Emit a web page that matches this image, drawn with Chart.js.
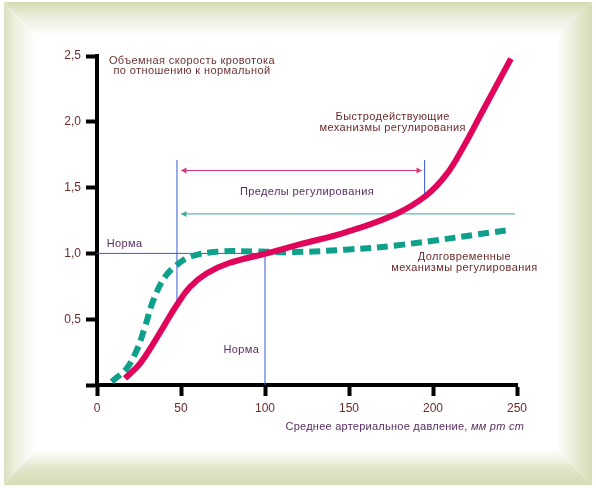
<!DOCTYPE html>
<html><head><meta charset="utf-8">
<script src="https://cdn.jsdelivr.net/npm/chart.js@4/dist/chart.umd.min.js"></script>
<style>html,body{margin:0;padding:0;background:#fff;overflow:hidden}canvas{display:block}</style>
</head><body>
<canvas id="c" width="596" height="488"></canvas>
<script>
// ---- data ----
const xTicks = [0, 50, 100, 150, 200, 250];
const yTickLabels = ['', '0,5', '1,0', '1,5', '2,0', '2,5'];
const fastPressure = [16.7, 25.7, 33.6, 39.6, 47.5, 55.5, 65.4, 78.3, 101, 121, 148, 178, 196, 208, 217.7, 229.5, 246.4];
const fastFlow     = [0.05, 0.165, 0.317, 0.443, 0.608, 0.747, 0.849, 0.925, 1.0, 1.07, 1.16, 1.30, 1.44, 1.60, 1.80, 2.08, 2.48];
const slowPressure = [8.8, 17.7, 23.7, 28.6, 33.6, 40.6, 47.5, 55.5, 71.4, 95, 117, 150, 178, 246.4];
const slowFlow     = [0.025, 0.127, 0.266, 0.443, 0.646, 0.823, 0.912, 0.975, 1.013, 1.015, 1.01, 1.03, 1.06, 1.18];
const normPressure = [0, 100];
const normFlow = [0, 1.0];
const limitPressure = [47.6, 195];
const limitLowFlow = [0.62, 1.43];
const limitTopFlow = 1.71;
const fastArrowPressure = [50.1, 193.3];
const fastArrowFlow = 1.63;
const slowArrowPressure = [50.1, 248.8];
const slowArrowFlow = 1.30;

const pts = (xs, ys) => xs.map((x, i) => ({x, y: ys[i]}));
const FONT = '"Liberation Sans", Arial, sans-serif';
const BLUE = '#3658dc';
const PINK = '#e0045a';
const TEAL = '#0fa08c';

// text notes, placed in data coordinates
const notes = [
  {t: 'Объемная скорость кровотока', x: 56.5, y: 2.464, a: 'center', c: '#6b3232'},
  {t: 'по отношению к нормальной', x: 56.5, y: 2.386, a: 'center', c: '#6b3232'},
  {t: 'Быстродействующие', x: 176, y: 2.034, a: 'center', c: '#6b2b2b'},
  {t: 'механизмы регулирования', x: 176, y: 1.953, a: 'center', c: '#6b2b2b'},
  {t: 'Пределы регулирования', x: 125, y: 1.464, a: 'center', c: '#5a2d62'},
  {t: 'Норма', x: 5.8, y: 1.069, a: 'left', c: '#5a2d62'},
  {t: 'Норма', x: 85.9, y: 0.266, a: 'center', c: '#5a2d62'},
  {t: 'Долговременные', x: 218.7, y: 0.975, a: 'center', c: '#6b2b2b'},
  {t: 'механизмы регулирования', x: 218.7, y: 0.887, a: 'center', c: '#6b2b2b'}
];
const xTitleMain = 'Среднее артериальное давление, ';
const xTitleUnit = 'мм рт ст';

const framePlugin = {
  id: 'frame',
  beforeDraw(chart) {
    const ctx = chart.ctx;
    const L = 4, T = 2, R = 592, B = 485, iL = 36, iT = 36, iR = 557, iB = 450;
    const G = '#d3dcb3';
    ctx.save();
    ctx.fillStyle = '#fff';
    ctx.fillRect(0, 0, chart.width, chart.height);
    const poly = (p, grad) => {
      ctx.beginPath(); ctx.moveTo(p[0][0], p[0][1]);
      for (let i = 1; i < p.length; i++) ctx.lineTo(p[i][0], p[i][1]);
      ctx.closePath(); ctx.fillStyle = grad; ctx.fill();
    };
    let g = ctx.createLinearGradient(0, T, 0, iT);
    g.addColorStop(0, G); g.addColorStop(0.35, '#e6ebd6'); g.addColorStop(1, '#ffffff');
    poly([[L, T], [R, T], [iR, iT], [iL, iT]], g);
    g = ctx.createLinearGradient(L, 0, iL, 0);
    g.addColorStop(0, '#d9e1bf'); g.addColorStop(0.4, '#eef1e2'); g.addColorStop(1, '#ffffff');
    poly([[L, T], [iL, iT], [iL, iB], [L, B]], g);
    g = ctx.createLinearGradient(iR, 0, R, 0);
    g.addColorStop(0, '#ffffff'); g.addColorStop(0.6, '#e4e9d0'); g.addColorStop(1, G);
    poly([[R, T], [R, B], [iR, iB], [iR, iT]], g);
    g = ctx.createLinearGradient(0, iB, 0, B);
    g.addColorStop(0, '#ffffff'); g.addColorStop(0.5, '#e2e8cd'); g.addColorStop(1, G);
    poly([[L, B], [iL, iB], [iR, iB], [R, B]], g);
    ctx.restore();
  }
};

const notesPlugin = {
  id: 'notes',
  afterDraw(chart) {
    const ctx = chart.ctx, xs = chart.scales.x, ys = chart.scales.y;
    ctx.save();
    ctx.font = '11px ' + FONT;
    ctx.letterSpacing = '0.4px';
    ctx.textBaseline = 'middle';
    notes.forEach(n => {
      ctx.fillStyle = n.c; ctx.textAlign = n.a;
      ctx.fillText(n.t, xs.getPixelForValue(n.x), ys.getPixelForValue(n.y));
    });
    // x axis title with italic unit
    ctx.letterSpacing = '0.25px';
    ctx.fillStyle = '#5a2d62';
    ctx.textAlign = 'left';
    ctx.font = '11px ' + FONT;
    const w1 = ctx.measureText(xTitleMain).width;
    ctx.font = 'italic 11px ' + FONT;
    const w2 = ctx.measureText(xTitleUnit).width;
    const cx = xs.getPixelForValue(183.2);
    const ty = chart.chartArea.bottom + 42;
    let sx = cx - (w1 + w2) / 2;
    ctx.font = '11px ' + FONT;
    ctx.fillText(xTitleMain, sx, ty);
    ctx.font = 'italic 11px ' + FONT;
    ctx.fillText(xTitleUnit, sx + w1, ty);
    ctx.restore();
  }
};

const thin = (data, color, extra) => Object.assign({
  data, borderColor: color, borderWidth: 1, pointRadius: 0, fill: false, tension: 0
}, extra || {});

const arrowHead = (tipX, dir, r) => tipX + dir * r / 1.676;

new Chart(document.getElementById('c'), {
  type: 'line',
  data: {
    datasets: [
      {data: pts(fastPressure, fastFlow), borderColor: PINK, borderWidth: 6, pointRadius: 0,
       tension: 0.4, borderCapStyle: 'butt', fill: false},
      {data: pts(slowPressure, slowFlow), borderColor: TEAL, borderWidth: 6, borderDash: [11, 6],
       pointRadius: 0, tension: 0.4, fill: false},
      thin([{x: normPressure[0], y: normFlow[1]}, {x: normPressure[1], y: normFlow[1]}], BLUE),
      thin([{x: normPressure[1], y: normFlow[0]}, {x: normPressure[1], y: normFlow[1]}], BLUE),
      thin([{x: limitPressure[0], y: limitLowFlow[0]}, {x: limitPressure[0], y: limitTopFlow}], BLUE),
      thin([{x: limitPressure[1], y: limitLowFlow[1]}, {x: limitPressure[1], y: limitTopFlow}], BLUE),
      thin([
        {x: fastArrowPressure[0], y: fastArrowFlow},
        {x: arrowHead(fastArrowPressure[0], 1, 3.5), y: fastArrowFlow},
        {x: arrowHead(fastArrowPressure[1], -1, 3.5), y: fastArrowFlow},
        {x: fastArrowPressure[1], y: fastArrowFlow}
      ], '#d6337a', {pointRadius: [0, 3.5, 3.5, 0], pointStyle: 'triangle', pointRotation: [0, -90, 90, 0],
        pointBackgroundColor: '#d6337a', pointBorderColor: '#d6337a', pointBorderWidth: 0}),
      thin([
        {x: slowArrowPressure[0], y: slowArrowFlow},
        {x: arrowHead(slowArrowPressure[0], 1, 3.5), y: slowArrowFlow},
        {x: slowArrowPressure[1], y: slowArrowFlow}
      ], '#3aaaa0', {pointRadius: [0, 3.5, 0], pointStyle: 'triangle', pointRotation: [0, -90, 0],
        pointBackgroundColor: '#3aaaa0', pointBorderColor: '#3aaaa0', pointBorderWidth: 0})
    ]
  },
  options: {
    responsive: false,
    animation: false,
    events: [],
    layout: {padding: {left: 0, right: 79, top: 56, bottom: 0}},
    plugins: {legend: {display: false}, tooltip: {enabled: false}},
    scales: {
      x: {
        type: 'linear', min: xTicks[0], max: xTicks[xTicks.length - 1],
        afterFit: s => { s.height = 103; },
        afterBuildTicks: s => { s.ticks = xTicks.map(v => ({value: v})); },
        ticks: {padding: 5, color: '#6b2b2b', font: {family: FONT, size: 12}, maxRotation: 0,
                callback: v => String(v)},
        grid: {drawOnChartArea: false, drawTicks: true, tickLength: 11, tickWidth: 4, tickColor: '#000'},
        border: {display: true, color: '#000', width: 4}
      },
      y: {
        type: 'linear', min: 0, max: 2.5,
        afterFit: s => { s.width = 97; },
        afterBuildTicks: s => { s.ticks = yTickLabels.map((l, i) => ({value: i * 0.5})); },
        ticks: {padding: 5, color: '#6b2b2b', font: {family: FONT, size: 12},
                callback: (v, i) => yTickLabels[i]},
        grid: {drawOnChartArea: false, drawTicks: true, tickLength: 11, tickWidth: 4, tickColor: '#000'},
        border: {display: true, color: '#000', width: 4}
      }
    }
  },
  plugins: [framePlugin, notesPlugin]
});
</script>
</body></html>
